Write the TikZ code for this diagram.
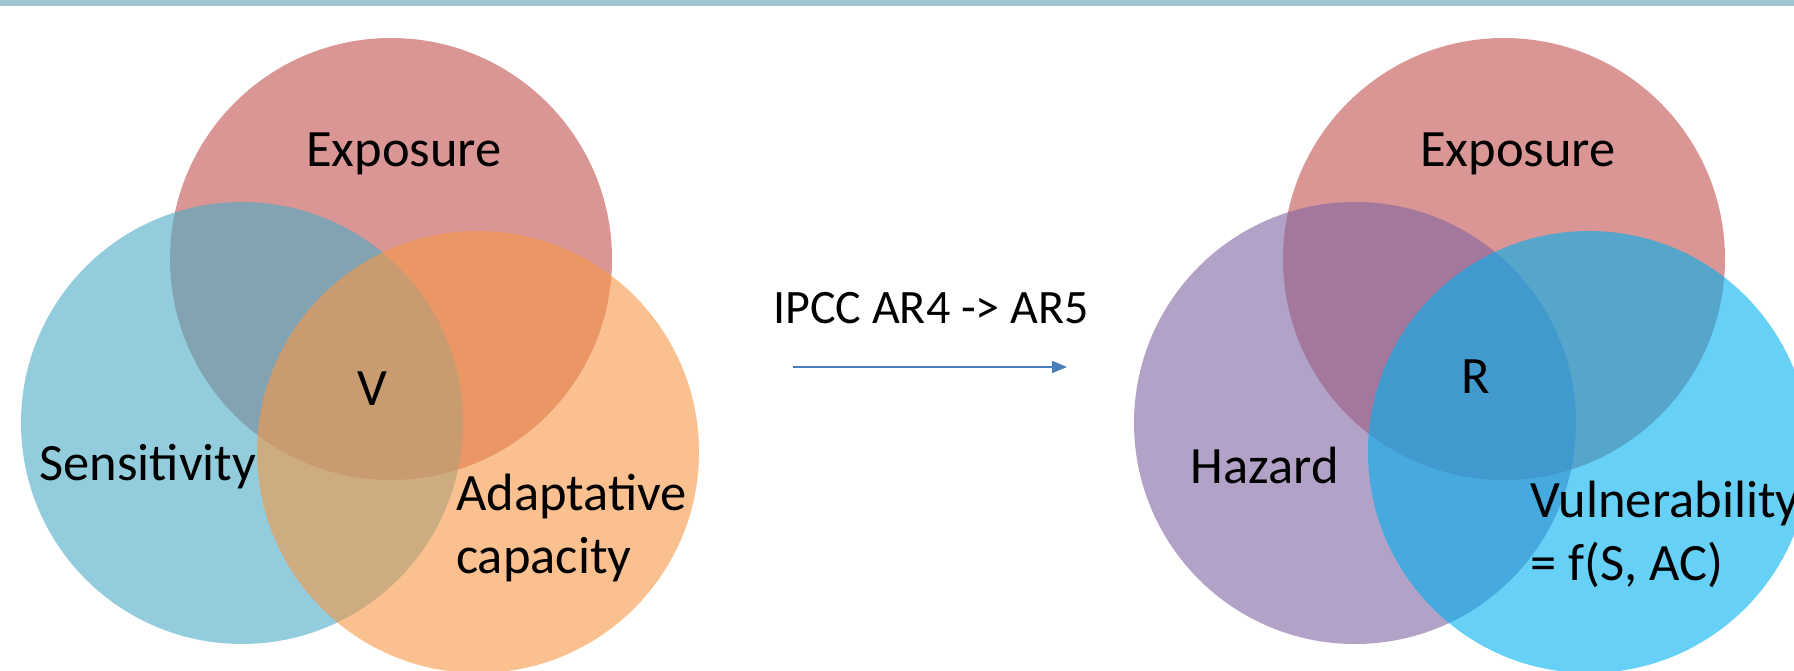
\documentclass[tikz,border=0pt]{standalone}
\usepackage{fontspec}
\setmainfont{Carlito}
\usepackage{xcolor}
\usepackage{tikz}
\usetikzlibrary{arrows.meta}

\definecolor{barblue}{HTML}{A1C6CF}
\definecolor{expored}{HTML}{C0504D}
\definecolor{sensblue}{HTML}{4BACC6}
\definecolor{adaporange}{HTML}{F79646}
\definecolor{hazpurple}{HTML}{8064A2}
\definecolor{vulnblue}{HTML}{00B0F0}
\definecolor{arrowblue}{HTML}{4A7EBB}

\begin{document}
\begin{tikzpicture}[x=1pt,y=-1pt]
\tikzstyle{set} = [circle,minimum size=442pt,inner sep=0,fill opacity=0.6];
\tikzstyle{lbl} = [font=\fontsize{52.5}{63}\selectfont,inner sep=0];
\tikzstyle{note} = [font=\fontsize{48}{58}\selectfont,inner sep=0];
\useasboundingbox (0,0) rectangle (1794,671);
\clip (0,0) rectangle (1794,671);
\fill [barblue] (0,0) rectangle (1794,6);
% AR4 view
\node [set,fill=expored] (expoL) at (391,259) {};
\node [set,fill=sensblue] (sens) at (242,423) {};
\node [set,fill=adaporange] (adap) at (478,452) {};
\node [lbl,anchor=base] (expoLtxt) at (404,167) {Exposure};
\node [lbl,anchor=base] (vtxt) at (372,405) {V};
\node [lbl,anchor=base] (senstxt) at (148,480) {Sensitivity};
\node [lbl,anchor=base west,align=left] (adaptxt) at (456,573) {Adaptative\\capacity};
% AR5 view
\node [set,fill=expored] (expoR) at (1504,259) {};
\node [set,fill=hazpurple] (haz) at (1355,423) {};
\node [set,fill=vulnblue] (vuln) at (1589,452) {};
\node [lbl,anchor=base] (expoRtxt) at (1518,167) {Exposure};
\node [lbl,anchor=base] (rtxt) at (1476,393) {R};
\node [lbl,anchor=base] (haztxt) at (1265,483) {Hazard};
\node [lbl,anchor=base west,align=left] (vulntxt) at (1530,580) {Vulnerability\\= f(S, AC)};
% transition
\node [note,anchor=base] (ipcc) at (931,323) {IPCC AR4 -> AR5};
\coordinate (from) at (793,367);
\coordinate (to) at (1067,367);
\draw [arrowblue,line width=1.6pt,-{Triangle[length=15pt,width=12pt]}] (from) -- (to);
\end{tikzpicture}
\end{document}
